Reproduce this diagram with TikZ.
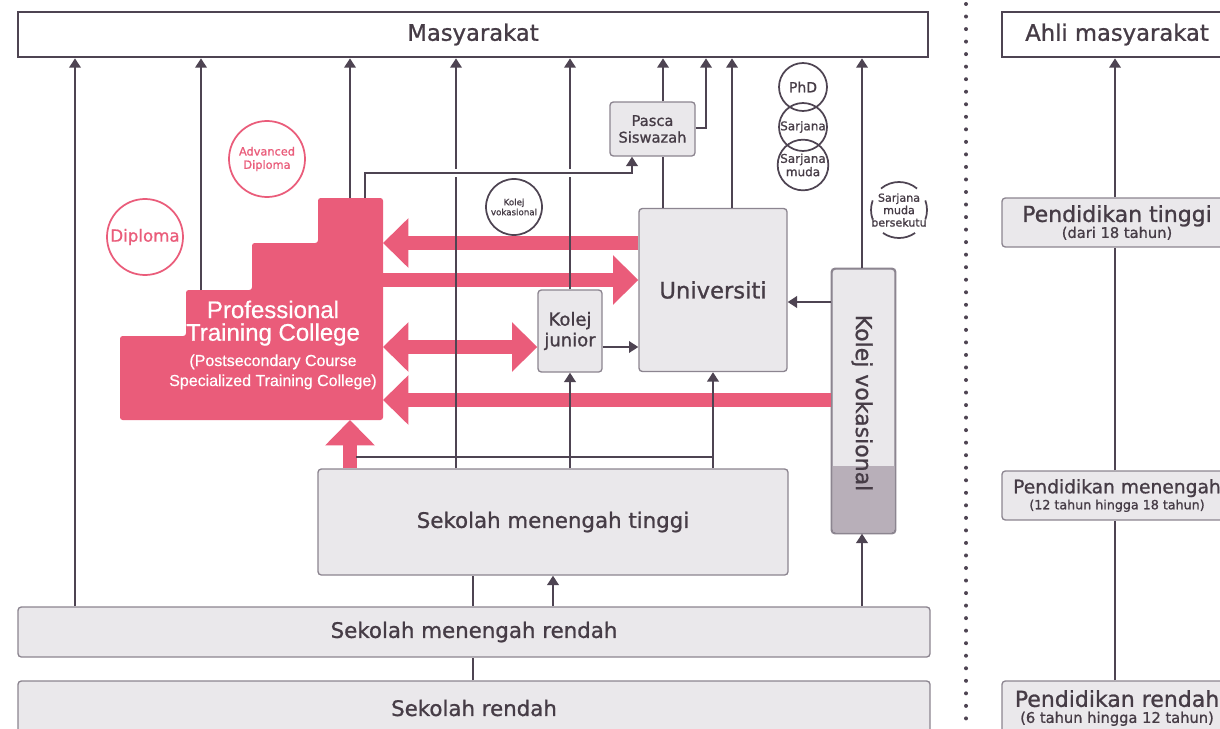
\documentclass[tikz,border=0pt]{standalone}
\usepackage{fontspec}
\setmainfont{DejaVu Sans}[FakeBold=1]
\newfontfamily\lib{Liberation Sans}[FakeBold=0.6]
\usetikzlibrary{arrows.meta}
\definecolor{ink}{HTML}{4E4452}
\definecolor{txt}{HTML}{463C46}
\definecolor{pnk}{HTML}{EA5C7A}
\definecolor{boxfill}{HTML}{EAE8EB}
\definecolor{boxline}{HTML}{8C8590}
\definecolor{kvdark}{HTML}{B8AFB9}
\newcommand{\fs}[1]{\fontsize{#1}{#1}\selectfont}
\begin{document}
\begin{tikzpicture}[x=0.75pt,y=-0.75pt,
 conn/.style={draw=ink,line width=2pt},
 arr/.style={conn,-{Triangle[length=7pt,width=8.5pt]}},
 parr/.style={draw=pnk,line width=10.5pt,-{Triangle[length=19pt,width=36pt]}},
 pdbl/.style={draw=pnk,line width=10.5pt,{Triangle[length=19pt,width=36pt]}-{Triangle[length=19pt,width=36pt]}},
 gbox/.style={draw=boxline,fill=boxfill,line width=1pt,rounded corners=2.5pt,inner sep=0pt,text=txt,align=center},
 wbox/.style={draw=ink,fill=white,line width=2pt,inner sep=0pt,text=txt},
 pcirc/.style={circle,draw=pnk,line width=1.3pt,text=pnk,inner sep=0pt,align=center},
 dcirc/.style={circle,draw=ink,line width=1.3pt,text=txt,inner sep=0pt,align=center},
 ttl/.style={text=txt,align=center}]
\useasboundingbox (0,0) rectangle (1220,728);
\clip (0,0) rectangle (1220,728);
\fill[white] (0,0) rectangle (1220,728);

% dotted divider
\draw[ink,line width=3pt,line cap=round,dash pattern=on 0pt off 9.4pt] (966,4) -- (966,728);

% boxes
\node[wbox,minimum width=910*0.75pt,minimum height=45*0.75pt,font=\fs{17}] (masy) at (473,34.5) {Masyarakat};
\node[wbox,minimum width=230*0.75pt,minimum height=45*0.75pt,font=\fs{17}] (ahli) at (1117,34.5) {Ahli masyarakat};
\node[gbox,minimum width=85*0.75pt,minimum height=54*0.75pt,font=\fontsize{11}{12.5}\selectfont] (pasca) at (652.5,129) {Pasca\\Siswazah};
\node[gbox,minimum width=148*0.75pt,minimum height=163*0.75pt,font=\fs{17}] (univ) at (713,290) {Universiti};
\node[gbox,minimum width=64*0.75pt,minimum height=82*0.75pt,font=\fontsize{13.5}{15.5}\selectfont] (kj) at (570,331) {Kolej\\junior};
\node[gbox,minimum width=63*0.75pt,minimum height=264*0.75pt] (kv) at (863.5,401) {};
\fill[kvdark] (832.5,466) {[rounded corners=2.5pt] -- (832.5,532.5) -- (894.5,532.5)} -- (894.5,466) -- cycle;
\draw[boxline,line width=1pt,rounded corners=2.5pt] (kv.north west) rectangle (kv.south east);
\node[rotate=-90,text=txt,font=\fs{16.5}] (kvt) at (862,403) {Kolej vokasional};
\node[gbox,minimum width=470*0.75pt,minimum height=106*0.75pt,font=\fs{16}] (smt) at (553,522) {Sekolah menengah tinggi};
\node[gbox,minimum width=912*0.75pt,minimum height=50*0.75pt,font=\fs{16}] (smr) at (474,632) {Sekolah menengah rendah};
\node[gbox,minimum width=912*0.75pt,minimum height=54*0.75pt,font=\fs{16}] (sr) at (474,708) {Sekolah rendah};

\node[gbox,minimum width=230*0.75pt,minimum height=49*0.75pt] (pt) at (1117,222.5)
 {\fontsize{16.5}{17}\selectfont Pendidikan tinggi\\\fontsize{11}{11}\selectfont (dari 18 tahun)};
\node[gbox,minimum width=230*0.75pt,minimum height=49*0.75pt] (pm) at (1117,495.5)
 {\fontsize{14}{15}\selectfont Pendidikan menengah\\\fontsize{9.5}{10}\selectfont (12 tahun hingga 18 tahun)};
\node[gbox,minimum width=230*0.75pt,minimum height=54*0.75pt] (pr) at (1117,708)
 {\fontsize{16.5}{16}\selectfont Pendidikan rendah\\\fontsize{11}{11}\selectfont (6 tahun hingga 12 tahun)};

% Professional Training College block
\fill[pnk,rounded corners=2pt] (120,420) -- (120,336) -- (186,336) -- (186,290) -- (252,290) -- (252,243) -- (318,243) -- (318,198) -- (383,198) -- (383,420) -- cycle;
\coordinate (ptcE) at (383,300);
\coordinate (ptcB) at (350,420);
\coordinate (ptcT1) at (350,198);
\coordinate (ptcT2) at (365,198);
\coordinate (ptcS) at (201,290);
\node[text=white,align=center,font=\lib\fontsize{18}{17}\selectfont] (ptc) at (273,345)
 {\fontsize{18}{17}\selectfont Professional\\\fontsize{18}{17}\selectfont Training College\\[2pt]\fontsize{12}{15}\selectfont (Postsecondary Course\\[-2pt]\fontsize{12}{15}\selectfont Specialized Training College)};

% pink arrows
\draw[parr] (univ.west |- 0,243) -- (ptcE |- 0,243);
\draw[parr] (ptcE |- 0,280) -- (univ.west |- 0,280);
\draw[pdbl] (ptcE |- 0,347) -- (kj.west |- 0,347);
\draw[parr] (kv.west |- 0,400) -- (ptcE |- 0,400);
\draw[parr] (smt.north -| ptcB) -- (ptcB);

% circles
\node[pcirc,minimum size=76*0.75pt,font=\fs{12.5}] (dip) at (145,237) {Diploma};
\node[pcirc,minimum size=76*0.75pt,font=\fontsize{8.5}{10}\selectfont] (adip) at (267,159) {Advanced\\Diploma};
\node[dcirc,minimum size=56*0.75pt,font=\fontsize{6.5}{7.5}\selectfont] (kvc) at (514,207) {Kolej\\vokasional};
\node[dcirc,minimum size=48*0.75pt,font=\fs{10.5}] (phd) at (803,87) {PhD};
\node[dcirc,minimum size=48*0.75pt,font=\fs{9}] (sarj) at (803,127) {Sarjana};
\node[dcirc,minimum size=48*0.75pt,font=\fontsize{9}{10}\selectfont] (sm) at (803,165) {Sarjana\\muda};
\node[ttl,circle,inner sep=0pt,minimum size=56*0.75pt,font=\fontsize{8.3}{9.3}\selectfont] (smb) at (899,210) {Sarjana\\muda\\bersekutu};
\draw[ink,line width=1.3pt] (smb.center) ++(50:21pt) arc (50:130:21pt);
\draw[ink,line width=1.3pt] (smb.center) ++(160:21pt) arc (160:200:21pt);
\draw[ink,line width=1.3pt] (smb.center) ++(-20:21pt) arc (-20:20:21pt);
\draw[ink,line width=1.3pt] (smb.center) ++(235:21pt) arc (235:305:21pt);

% dark connectors
\draw[arr] (smr.north -| 75,0) -- (masy.south -| 75,0);
\draw[arr] (ptcS) -- (masy.south -| ptcS);
\draw[arr] (ptcT1) -- (masy.south -| ptcT1);
\draw[arr] (smt.north -| 456,0) -- (masy.south -| 456,0);
\draw[arr] (kj.north) -- (masy.south -| kj.north);
\draw[conn] (univ.north -| 663,0) -- (pasca.south -| 663,0);
\draw[arr] (pasca.north -| 663,0) -- (masy.south -| 663,0);
\draw[arr] (pasca.east |- 0,128) -| (masy.south -| 706,0);
\draw[arr] (univ.north -| 732,0) -- (masy.south -| 732,0);
\draw[arr] (kv.north -| 862,0) -- (masy.south -| 862,0);
\draw[arr] (smr.north -| 862,0) -- (kv.south -| 862,0);
\draw[arr] (kv.west |- 0,302) -- (univ.east |- 0,302);
\draw[arr] (kj.east |- 0,347) -- (univ.west |- 0,347);
\draw[arr] (smt.north -| kj.south) -- (kj.south);
\draw[arr] (smt.north -| univ.south) -- (univ.south);
\draw[conn] (356,457) -- (univ.south |- 0,457);
\draw[conn] (sr.north -| 473,0) -- (smr.south -| 473,0);
\draw[conn] (smr.north -| 473,0) -- (smt.south -| 473,0);
\draw[arr] (smr.north -| 553,0) -- (smt.south -| 553,0);
\draw[white,line width=6pt] (375,173) -- (625,173);
\draw[arr] (ptcT2) |- (632,173) -- (pasca.south -| 632,0);

\draw[arr] (pt.north -| 1115,0) -- (ahli.south -| 1115,0);
\draw[conn] (pm.north -| 1115,0) -- (pt.south -| 1115,0);
\draw[conn] (pr.north -| 1115,0) -- (pm.south -| 1115,0);
\end{tikzpicture}
\end{document}
